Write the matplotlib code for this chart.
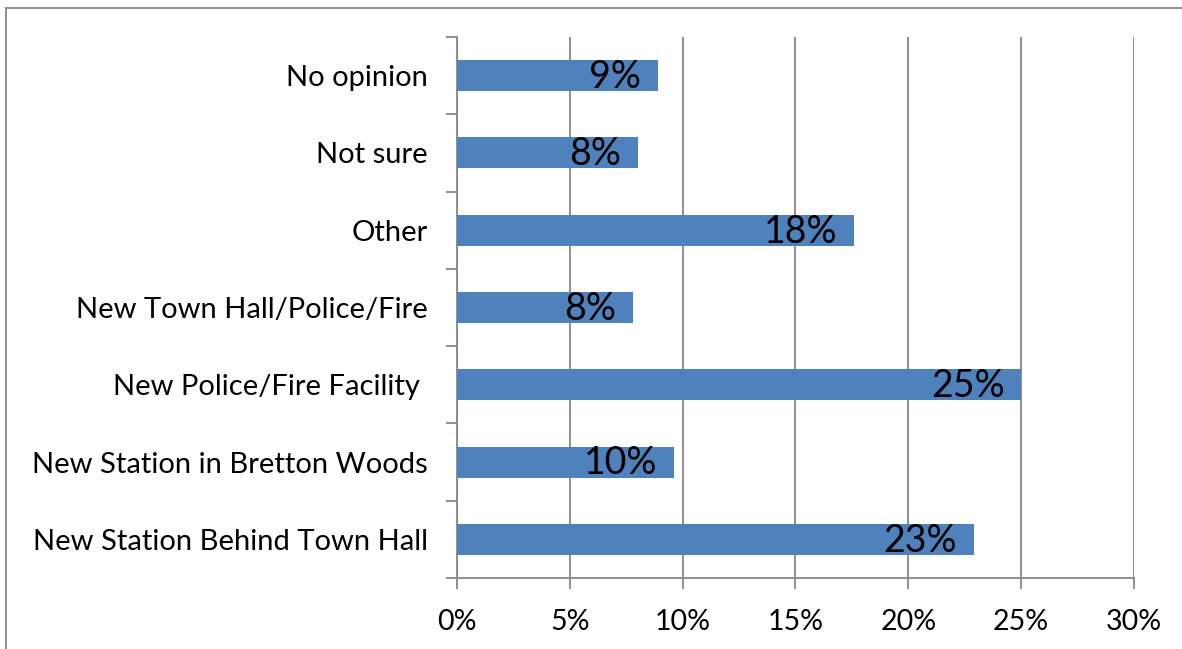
import matplotlib

matplotlib.use("Agg")
import matplotlib.pyplot as plt
from matplotlib.lines import Line2D
from matplotlib.ticker import FixedLocator, PercentFormatter

plt.rcParams["font.family"] = ["Lato", "DejaVu Sans"]

# Survey answers, bottom to top, with their share of responses (%)
categories = [
    "New Station Behind Town Hall",
    "New Station in Bretton Woods",
    "New Police/Fire Facility ",
    "New Town Hall/Police/Fire",
    "Other",
    "Not sure",
    "No opinion",
]
shares = [22.9, 9.6, 25.0, 7.8, 17.6, 8.0, 8.9]
x_ticks = [0, 5, 10, 15, 20, 25, 30]

BAR_COLOR = "#4F81BD"
AXIS_COLOR = "#878787"

fig = plt.figure(figsize=(11.82, 6.49), dpi=100)
ax = fig.add_axes([457 / 1182, 1 - 578 / 649, (1134 - 457) / 1182, (578 - 37) / 649])

y = range(len(categories))
bars = ax.barh(y, shares, height=0.4, color=BAR_COLOR, zorder=3)

for rect, val in zip(bars, shares):
    ax.annotate(
        f"{val:.0f}%",
        xy=(rect.get_width(), rect.get_y() + rect.get_height() / 2),
        xytext=(-12, -1),
        textcoords="offset points",
        ha="right",
        va="center",
        fontsize=27,
        color="black",
        zorder=4,
    )

ax.set_xlim(0, 30)
ax.set_ylim(-0.5, len(categories) - 0.5)
ax.xaxis.set_major_locator(FixedLocator(x_ticks))
ax.xaxis.set_major_formatter(PercentFormatter(decimals=0))
ax.grid(axis="x", color=AXIS_COLOR, linewidth=1.3, zorder=0)

# category labels sit between the boundary ticks
ax.set_yticks(list(y))
ax.set_yticklabels(categories, fontsize=21)
ax.tick_params(axis="y", length=0, pad=21)
ax.set_yticks([i - 0.5 for i in range(len(categories) + 1)], minor=True)
ax.tick_params(axis="y", which="minor", length=8, width=1.3, color=AXIS_COLOR)
ax.tick_params(axis="x", length=8, width=1.3, color=AXIS_COLOR, labelsize=20.5, pad=14)

for side in ("top", "right"):
    ax.spines[side].set_visible(False)
for side in ("left", "bottom"):
    ax.spines[side].set_color(AXIS_COLOR)
    ax.spines[side].set_linewidth(1.3)

# chart-area frame
fig.add_artist(Line2D([6 / 1182, 6 / 1182], [0, 1 - 8 / 649], transform=fig.transFigure,
                      color=AXIS_COLOR, linewidth=1.3))
fig.add_artist(Line2D([6 / 1182, 1], [1 - 8 / 649, 1 - 8 / 649], transform=fig.transFigure,
                      color=AXIS_COLOR, linewidth=1.3))

fig.savefig("out.png", dpi=100)
